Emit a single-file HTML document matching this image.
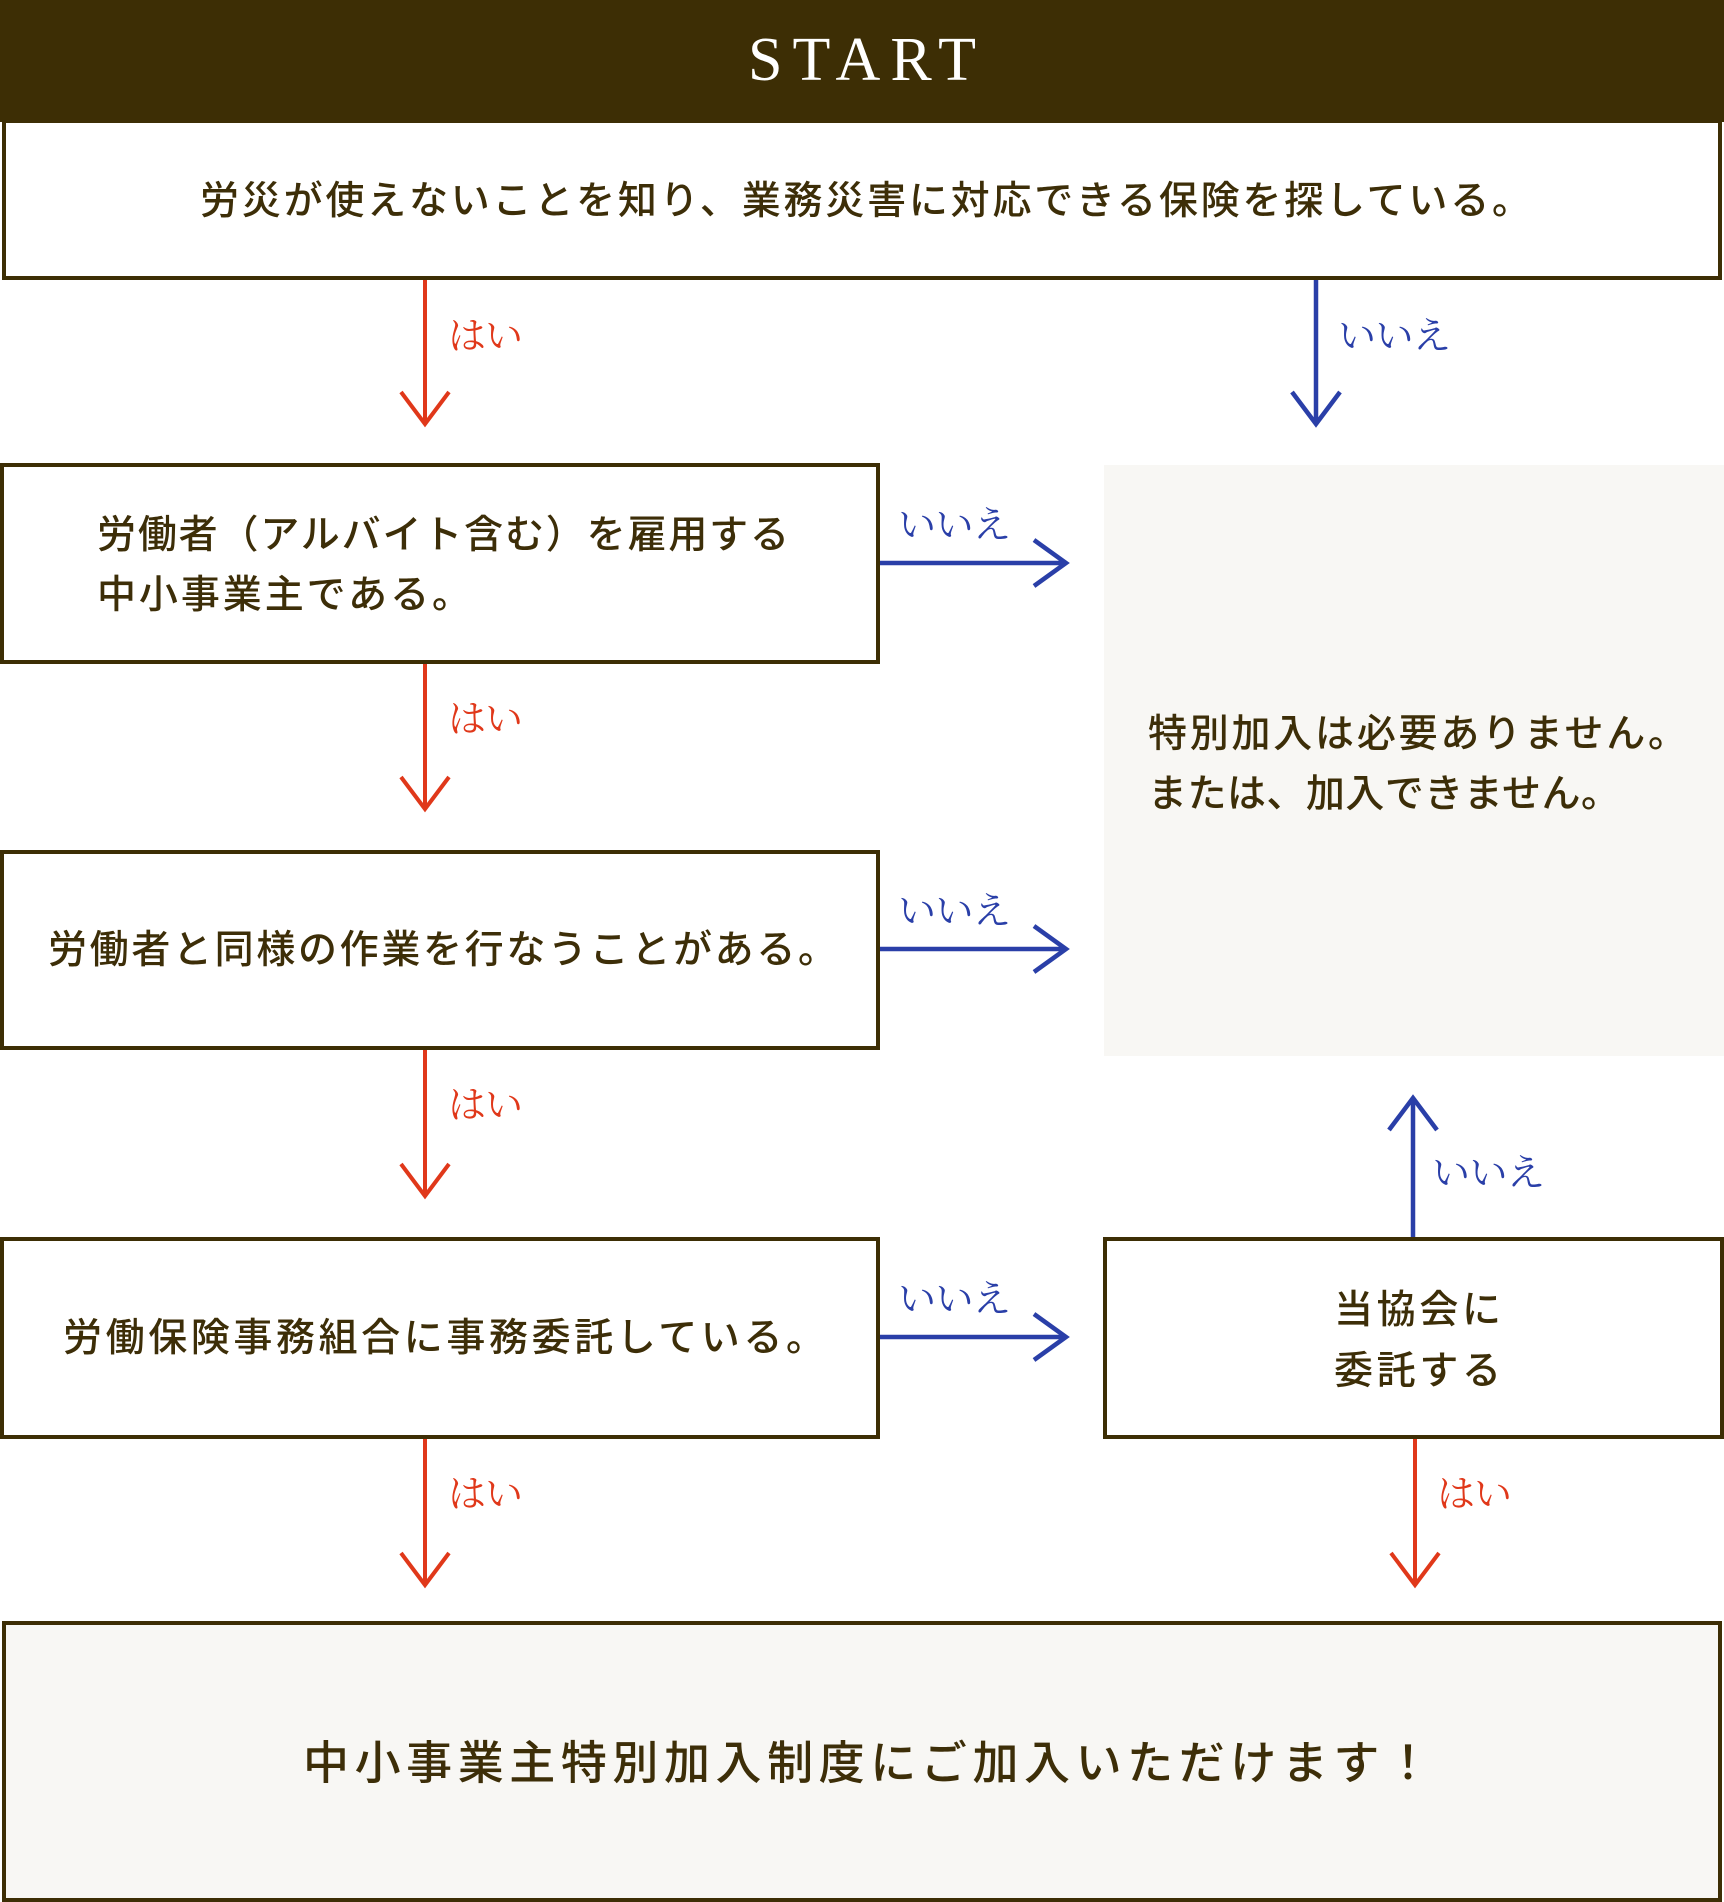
<!DOCTYPE html>
<html><head><meta charset="utf-8"><style>
html,body{margin:0;padding:0;background:#fff;}
svg{display:block;}
.t{font-family:"Liberation Sans","Noto Sans CJK JP",sans-serif;fill:#3d2e08;font-weight:500;}
.lr{font-family:"Liberation Serif","Noto Serif CJK SC",serif;fill:#e0381a;font-size:38px;}
.lb{font-family:"Liberation Serif","Noto Serif CJK SC",serif;fill:#2a3fa8;font-size:38px;}
</style></head><body>
<svg width="1724" height="1902" viewBox="0 0 1724 1902" xmlns="http://www.w3.org/2000/svg">
<rect x="0" y="0" width="1724" height="122" fill="#3d2e05"/>
<text x="862" y="80" text-anchor="middle" font-family="Liberation Serif,serif" font-size="62" textLength="228" lengthAdjust="spacing" fill="#fff">START</text>
<rect x="4" y="121" width="1716" height="157" fill="#fff" stroke="#3d2e05" stroke-width="4"/>
<text class="t" x="200" y="214" font-size="39" textLength="1331" lengthAdjust="spacing">労災が使えないことを知り、業務災害に対応できる保険を探している。</text>

<rect x="1104" y="465" width="620" height="591" fill="#f8f7f4"/>
<text class="t" x="1148" y="747" font-size="39" textLength="539" lengthAdjust="spacing">特別加入は必要ありません。</text>
<text class="t" x="1148" y="807" font-size="39" textLength="472" lengthAdjust="spacing">または、加入できません。</text>

<rect x="2" y="465" width="876" height="197" fill="#fff" stroke="#3d2e05" stroke-width="4"/>
<text class="t" x="97" y="548" font-size="39" textLength="692" lengthAdjust="spacing">労働者（アルバイト含む）を雇用する</text>
<text class="t" x="97" y="608" font-size="39" textLength="374" lengthAdjust="spacing">中小事業主である。</text>

<rect x="2" y="852" width="876" height="196" fill="#fff" stroke="#3d2e05" stroke-width="4"/>
<text class="t" x="48" y="963" font-size="39" textLength="789" lengthAdjust="spacing">労働者と同様の作業を行なうことがある。</text>

<rect x="2" y="1239" width="876" height="198" fill="#fff" stroke="#3d2e05" stroke-width="4"/>
<text class="t" x="63" y="1351" font-size="39" textLength="762" lengthAdjust="spacing">労働保険事務組合に事務委託している。</text>

<rect x="1105" y="1239" width="617" height="198" fill="#fff" stroke="#3d2e05" stroke-width="4"/>
<text class="t" x="1334" y="1323" font-size="39" textLength="167" lengthAdjust="spacing">当協会に</text>
<text class="t" x="1334" y="1384" font-size="39" textLength="167" lengthAdjust="spacing">委託する</text>

<rect x="4" y="1623" width="1716" height="277" fill="#f8f7f4" stroke="#3d2e05" stroke-width="4"/>
<text class="t" x="303" y="1779" font-size="46" textLength="1128" lengthAdjust="spacing">中小事業主特別加入制度にご加入いただけます！</text>

<g fill="none" stroke="#e0381a" stroke-width="4">
<path d="M425 280V424M401 392L425 424L449 392"/>
<path d="M425 664V809M401 777L425 809L449 777"/>
<path d="M425 1050V1196M401 1164L425 1196L449 1164"/>
<path d="M425 1439V1585M401 1553L425 1585L449 1553"/>
<path d="M1415 1439V1585M1391 1553L1415 1585L1439 1553"/>
</g>
<g fill="none" stroke="#2a3fa8" stroke-width="4.5">
<path d="M1316 280V424M1292 392L1316 424L1340 392"/>
<path d="M880 563H1066M1034 540L1066 563L1034 586"/>
<path d="M880 949H1066M1034 926L1066 949L1034 972"/>
<path d="M880 1337H1066M1034 1314L1066 1337L1034 1360"/>
<path d="M1413 1237V1098M1389 1130L1413 1098L1437 1130"/>
</g>
<text class="lr" x="448" y="349" textLength="75" lengthAdjust="spacing">はい</text>
<text class="lr" x="448" y="732" textLength="75" lengthAdjust="spacing">はい</text>
<text class="lr" x="448" y="1118" textLength="75" lengthAdjust="spacing">はい</text>
<text class="lr" x="448" y="1507" textLength="75" lengthAdjust="spacing">はい</text>
<text class="lr" x="1437" y="1507" textLength="75" lengthAdjust="spacing">はい</text>
<text class="lb" x="1338" y="349" textLength="113" lengthAdjust="spacing">いいえ</text>
<text class="lb" x="898" y="538" textLength="113" lengthAdjust="spacing">いいえ</text>
<text class="lb" x="898" y="924" textLength="113" lengthAdjust="spacing">いいえ</text>
<text class="lb" x="898" y="1312" textLength="113" lengthAdjust="spacing">いいえ</text>
<text class="lb" x="1432" y="1186" textLength="113" lengthAdjust="spacing">いいえ</text>
</svg>
</body></html>
